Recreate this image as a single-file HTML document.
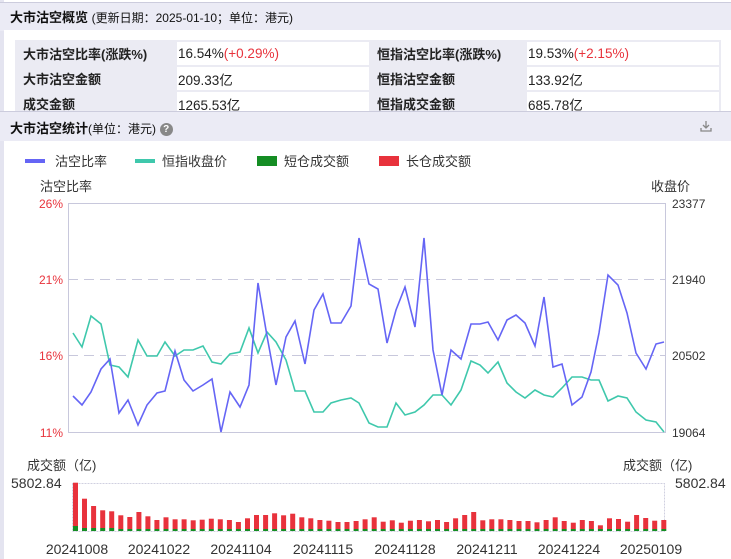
<!DOCTYPE html>
<html><head><meta charset="utf-8"><style>
body{margin:0;width:731px;height:559px;overflow:hidden;background:#fff;font-family:"Liberation Sans","Noto Sans CJK SC",sans-serif;position:relative}
.abs{position:absolute}
.hdr{left:0;width:731px;background:#ebebf5}
td{height:23px;padding:0 0 0 6px;font-size:13px;color:#222}
td.v{padding-left:1px;font-size:13.5px}
</style></head><body>
<div class="abs" style="left:0;top:0;width:4px;height:559px;background:#e4e4f0"></div>
<div class="abs hdr" style="top:2px;height:28px;border-top:1px solid #ccd"></div>
<div class="abs" style="left:10px;top:7px;font-size:13px;font-weight:bold;color:#111">大市沽空概览 <span style="font-weight:normal;font-size:12px">(更新日期：2025-01-10；单位：港元)</span></div>
<div class="abs" style="left:4px;top:30px;width:727px;height:82px;background:#fff"></div>
<table class="abs" style="left:15px;top:40px;border-collapse:separate;border-spacing:2px;background:#ebebf3;width:706px" cellspacing="0">
<tr><td style="font-weight:bold;width:152px">大市沽空比率(涨跌%)</td><td class="v" style="background:#fff;width:191px">16.54%<span style="color:#e8333c">(+0.29%)</span></td><td style="font-weight:bold;width:148px">恒指沽空比率(涨跌%)</td><td class="v" style="background:#fff">19.53%<span style="color:#e8333c">(+2.15%)</span></td></tr>
<tr><td style="font-weight:bold">大市沽空金额</td><td class="v" style="background:#fff">209.33亿</td><td style="font-weight:bold">恒指沽空金额</td><td class="v" style="background:#fff">133.92亿</td></tr>
<tr><td style="font-weight:bold">成交金额</td><td class="v" style="background:#fff">1265.53亿</td><td style="font-weight:bold">恒指成交金额</td><td class="v" style="background:#fff">685.78亿</td></tr>
</table>
<div class="abs hdr" style="top:111px;height:29px;border-top:1px solid #ccd"></div>
<div class="abs" style="left:10px;top:118px;font-size:13px;font-weight:bold;color:#111">大市沽空统计<span style="font-weight:normal;font-size:12px">(单位：港元)</span> <span style="display:inline-block;width:13px;height:13px;border-radius:7px;background:#888;color:#fff;font-size:10px;text-align:center;line-height:13px;vertical-align:1px">?</span></div>
<svg class="abs" style="left:699px;top:119px" width="14" height="14"><path d="M7 2v7M4 6l3 3 3-3M2 9v3h10V9" fill="none" stroke="#888" stroke-width="1.3"/></svg>
<svg class="abs" style="left:0;top:140px" width="731" height="419" font-family="Liberation Sans,Noto Sans CJK SC,sans-serif">
<g font-size="13" fill="#333">
<rect x="25" y="19" width="20" height="4" fill="#6565f5"/><text x="55" y="26">沽空比率</text>
<rect x="135" y="19" width="20" height="4" fill="#3fc8ac"/><text x="162" y="26">恒指收盘价</text>
<rect x="257" y="16" width="20" height="10" fill="#158d24"/><text x="284" y="26">短仓成交额</text>
<rect x="379" y="16" width="20" height="10" fill="#e8323c"/><text x="406" y="26">长仓成交额</text>
<text x="40" y="51">沽空比率</text><text x="690" y="51" text-anchor="end">收盘价</text>
</g>
</svg>
<svg class="abs" style="left:0;top:0" width="731" height="559" font-family="Liberation Sans,Noto Sans CJK SC,sans-serif">
<g font-size="12">
<g fill="#e8333c" text-anchor="end"><text x="63" y="208">26%</text><text x="63" y="284">21%</text><text x="63" y="360">16%</text><text x="63" y="437">11%</text></g>
<g fill="#333"><text x="672" y="208">23377</text><text x="672" y="284">21940</text><text x="672" y="360">20502</text><text x="672" y="437">19064</text></g>
</g>
<rect x="68.5" y="203.5" width="597" height="229" fill="none" stroke="#c8c8dc"/>
<line x1="68" y1="279.5" x2="665" y2="279.5" stroke="#c8c8dc" stroke-dasharray="10,6"/>
<line x1="68" y1="355.5" x2="665" y2="355.5" stroke="#c8c8dc" stroke-dasharray="10,6"/>
<polyline fill="none" stroke="#3fc8ac" stroke-width="1.6" points="73,333 82,347 91,316 101,324 110,365 119,367 128,377 138,340 147,356 157,356 165,342 175,356 184,350 193,350 203,346 212,362 221,364 230,354 240,352 249,328 258,353 267,332 276,342 286,360 295,391 305,391 314,412 323,412 331,403 341,400 351,398 359,403 369,423 378,427 387,427 396,403 405,415 415,412 424,405 433,395 442,395 451,405 461,390 471,361 480,365 488,373 498,362 507,383 516,392 525,398 535,390 544,395 553,397 562,388 572,377 582,377 591,380 599,380 608,401 618,396 627,398 636,412 646,420 656,422 664,432"/>
<polyline fill="none" stroke="#6565f5" stroke-width="1.6" points="73,396 82,405 91,392 101,369 110,359 119,413 128,400 138,425 147,405 157,393 165,391 175,351 184,380 193,391 203,385 212,379 221,432 230,392 240,407 249,385 258,283 267,336 276,385 286,337 295,321 305,364 314,310 323,294 331,323 341,323 351,306 359,238 369,284 378,289 387,343 396,310 405,287 415,327 424,238 433,350 442,395 451,350 461,359 471,324 480,324 488,322 498,340 507,320 516,315 525,323 535,346 544,297 553,367 562,364 572,405 582,397 591,372 599,333 608,275 618,285 627,313 636,353 646,369 656,344 664,342"/>
<g font-size="13" fill="#333">
<text x="27" y="470">成交额（亿)</text><text x="623" y="470">成交额（亿)</text>
<text x="11" y="488" font-size="14">5802.84</text><text x="675" y="488" font-size="14">5802.84</text>
<g text-anchor="middle" font-size="14"><text x="77" y="554">20241008</text><text x="159" y="554">20241022</text><text x="241" y="554">20241104</text><text x="323" y="554">20241115</text><text x="405" y="554">20241128</text><text x="487" y="554">20241211</text><text x="569" y="554">20241224</text><text x="651" y="554">20250109</text></g>
</g>
<rect x="72.5" y="483.5" width="592" height="48" fill="none" stroke="#d0d0e0" stroke-dasharray="2,1"/>
<g id="bars"></g>
</svg>
<script>
var tops=[100,148,170,183,186,198,203,188,201,212,204,210,210,213,211,208,210,212,218,207,197,197,192,198,193,204,207,212,214,218,218,215,210,204,217,213,220,214,212,216,212,218,207,197,188,213,210,210,212,215,215,219,212,204,215,220,212,215,228,207,209,217,197,206,214,212];
var g=document.getElementById('bars'),s='';
for(var i=0;i<tops.length;i++){var x=73+i*9.05,h=(245-tops[i])/3,y=531-h;var gh=i==0?5:(i<5?3:2);
s+='<rect x="'+x.toFixed(1)+'" y="'+y.toFixed(1)+'" width="5" height="'+(h-gh).toFixed(1)+'" fill="#e8323c"/><rect x="'+x.toFixed(1)+'" y="'+(531-gh)+'" width="5" height="'+gh+'" fill="#158d24"/>';}
g.innerHTML=s;
</script>
</body></html>
